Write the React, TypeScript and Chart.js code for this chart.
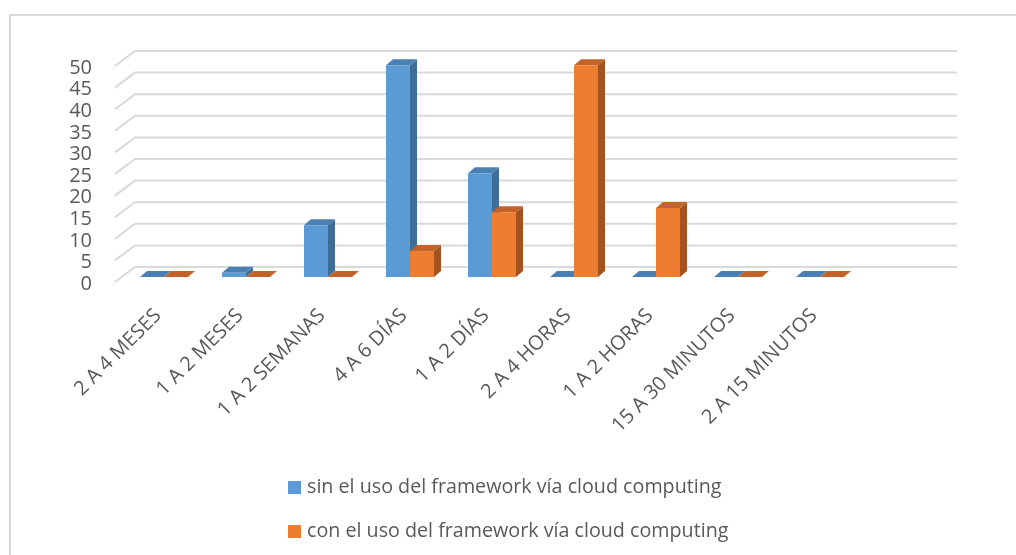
import React, { useEffect, useRef } from "react";
import { Chart, registerables } from "chart.js";
Chart.register(...registerables);

const categories = [
  "2 A 4 MESES",
  "1 A 2 MESES",
  "1 A 2 SEMANAS",
  "4 A 6 DÍAS",
  "1 A 2 DÍAS",
  "2 A 4 HORAS",
  "1 A 2 HORAS",
  "15 A 30 MINUTOS",
  "2 A 15 MINUTOS",
];
const sinValues = [0, 1, 12, 49, 24, 0, 0, 0, 0];
const conValues = [0, 0, 0, 6, 15, 49, 16, 0, 0];
const seriesLabels = [
  "sin el uso del framework vía cloud computing",
  "con el uso del framework vía cloud computing",
];
const yMin = 0;
const yMax = 50;
const yStep = 5;

const FONT = "'Open Sans', sans-serif";
const TEXT = "#595959";
const GRID = "#d9d9d9";
const DX = 7;
const DY = 6;

const threeD = {
  id: "threeD",
  beforeDatasetsDraw(chart: any) {
    const ctx = chart.ctx;
    const ys = chart.scales.y;
    ctx.save();
    // frame
    ctx.strokeStyle = GRID;
    ctx.lineWidth = 2;
    ctx.beginPath();
    ctx.moveTo(10, 560);
    ctx.lineTo(10, 15);
    ctx.lineTo(1020, 15);
    ctx.stroke();
    // 3D grid (floor edge + back wall)
    ctx.strokeStyle = GRID;
    ctx.lineWidth = 2;
    for (let v = yMin; v <= yMax; v += yStep) {
      const p = ys.getPixelForValue(v);
      ctx.beginPath();
      ctx.moveTo(115, p + 5);
      ctx.lineTo(135, p - 10);
      ctx.lineTo(957, p - 10);
      ctx.stroke();
    }
    // sides and tops
    chart.data.datasets.forEach((ds: any, i: number) => {
      const meta = chart.getDatasetMeta(i);
      meta.data.forEach((el: any) => {
        const { x, y, base, width } = el.getProps(["x", "y", "base", "width"], true);
        const l = x - width / 2;
        const r = x + width / 2;
        ctx.fillStyle = ds.sideColor;
        ctx.beginPath();
        ctx.moveTo(r, y);
        ctx.lineTo(r + DX, y - DY);
        ctx.lineTo(r + DX, base - DY);
        ctx.lineTo(r, base);
        ctx.closePath();
        ctx.fill();
        ctx.fillStyle = ds.topColor;
        ctx.beginPath();
        ctx.moveTo(l, y);
        ctx.lineTo(l + DX, y - DY);
        ctx.lineTo(r + DX, y - DY);
        ctx.lineTo(r, y);
        ctx.closePath();
        ctx.fill();
      });
    });
    ctx.restore();
  },
  afterDraw(chart: any) {
    const ctx = chart.ctx;
    ctx.save();
    const rows = [487, 531];
    chart.data.datasets.forEach((ds: any, i: number) => {
      const cy = rows[i];
      ctx.fillStyle = ds.backgroundColor;
      ctx.fillRect(288, cy - 6, 13, 13);
      ctx.fillStyle = TEXT;
      ctx.font = `19.7px ${FONT}`;
      ctx.textAlign = "left";
      ctx.textBaseline = "middle";
      ctx.fillText(ds.label, 307, cy);
    });
    ctx.restore();
  },
};

export default function App() {
  const ref = useRef<HTMLCanvasElement>(null);
  useEffect(() => {
    if (!ref.current) return;
    const chart = new Chart(ref.current, {
      type: "bar",
      data: {
        labels: categories,
        datasets: [
          {
            label: seriesLabels[0],
            data: sinValues,
            backgroundColor: "#5B9BD5",
            sideColor: "#3F6D96",
            topColor: "#4A80B3",
            borderWidth: 0,
          } as any,
          {
            label: seriesLabels[1],
            data: conValues,
            backgroundColor: "#ED7D31",
            sideColor: "#A4531F",
            topColor: "#C2632A",
            borderWidth: 0,
          } as any,
        ],
      },
      options: {
        animation: false,
        responsive: true,
        maintainAspectRatio: false,
        layout: { padding: { top: 61, right: 155, left: 0, bottom: 0 } },
        datasets: { bar: { barPercentage: 1, categoryPercentage: 48 / 82 } },
        plugins: { legend: { display: false }, tooltip: { enabled: false } },
        scales: {
          x: {
            grid: { display: false, drawTicks: false },
            border: { display: false },
            ticks: {
              color: TEXT,
              font: { family: FONT, size: 20 },
              minRotation: 45,
              maxRotation: 45,
              autoSkip: false,
              padding: 27,
              labelOffset: -6,
            },
            afterFit: (s: any) => {
              s.height = 278;
            },
          },
          y: {
            min: yMin,
            max: yMax,
            grid: { display: false, drawTicks: false },
            border: { display: false },
            ticks: {
              stepSize: yStep,
              autoSkip: false,
              color: TEXT,
              font: { family: FONT, size: 20 },
              padding: 31,
              labelOffset: 7,
            },
            afterFit: (s: any) => {
              s.width = 123;
            },
          },
        },
      },
      plugins: [threeD],
    });
    return () => chart.destroy();
  }, []);
  return (
    <div style={{ position: "absolute", left: 0, top: 0, width: 1016, height: 555, background: "#fff" }}>
      <canvas ref={ref} />
    </div>
  );
}
